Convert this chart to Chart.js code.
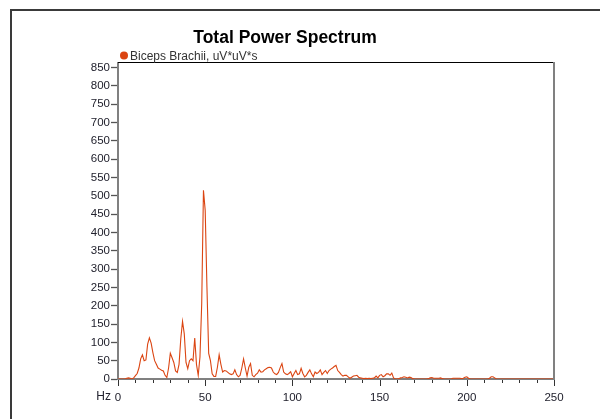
<!DOCTYPE html>
<html><head><meta charset="utf-8">
<script src="https://cdn.jsdelivr.net/npm/chart.js@4.4.1/dist/chart.umd.min.js"></script>
<style>html,body{margin:0;padding:0;background:#fff;overflow:hidden;}</style>
</head><body>
<canvas id="c" width="600" height="419"></canvas>
<script>
const chartTitle = 'Total Power Spectrum';
const seriesName = 'Biceps Brachii, uV*uV*s';
const xAxisName = 'Hz';

const frequencies = [
  0,1,2,3,4,5,6,7,8,9,10,11,12,13,14,15,16,17,18,19,20,21,22,23,24,25,26,27,28,29,
  30,31,32,33,34,35,36,37,38,39,40,41,42,43,44,45,46,47,48,49,50,51,52,53,54,55,56,57,58,59,
  60,61,62,63,64,65,66,67,68,69,70,71,72,73,74,75,76,77,78,79,80,81,82,83,84,85,86,87,88,89,
  90,91,92,93,94,95,96,97,98,99,100,101,102,103,104,105,106,107,108,109,110,111,112,113,114,115,116,117,118,119,
  120,121,122,123,124,125,126,127,128,129,130,131,132,133,134,135,136,137,138,139,140,141,142,143,144,145,146,147,148,149,
  150,151,152,153,154,155,156,157,158,159,160,161,162,163,164,165,166,167,168,169,170,171,172,173,174,175,176,177,178,179,
  180,181,182,183,184,185,186,187,188,189,190,191,192,193,194,195,196,197,198,199,200,201,202,203,204,205,206,207,208,209,
  210,211,212,213,214,215,216,217,218,219,220,221,222,223,224,225,226,227,228,229,230,231,232,233,234,235,236,237,238,239,
  240,241,242,243,244,245,246,247,248,249,250
];
const power = [
  0,0,0,0,0,2,3,2,0,3,
  9,15,30,55,66,50,52,95,112,98,
  72,50,40,30,27,24,22,10,4,30,
  70,58,45,22,18,40,110,157,123,45,
  28,50,55,50,112,40,10,60,205,515,
  460,250,70,50,14,7,7,32,66,40,
  19,23,22,18,14,12,14,25,12,6,
  10,30,55,30,8,32,42,10,6,12,
  16,25,19,20,25,28,31,32,30,19,
  14,12,18,31,42,19,14,12,15,20,
  6,15,23,12,14,29,15,6,10,18,
  25,14,6,19,15,18,25,12,18,23,
  15,23,27,30,34,37,23,18,12,8,
  10,10,6,2,5,8,9,10,5,3,
  2,1,2,1,2,1,2,3,8,3,
  10,12,6,9,14,14,10,16,3,0,
  0,1,3,4,6,5,3,5,4,1,
  0,0,0,0,0,0,0,0,1,3,
  4,2,2,2,2,3,1,0,0,0,
  0,0,2,2,2,2,2,1,2,5,
  6,2,0,0,0,0,0,0,0,0,
  0,0,0,2,6,6,3,0,0,0,
  0,0,0,0,0,0,0,0,0,0,
  0,0,0,0,0,0,0,0,0,0,
  0,0,0,0,0,0,0,0,0,0,
  0
];
const yTickValues = [0,50,100,150,200,250,300,350,400,450,500,550,600,650,700,750,800,850];
const xTickValues = [0,10,20,30,40,50,60,70,80,90,100,110,120,130,140,150,160,170,180,190,200,210,220,230,240,250];
const xLabelValues = [0,50,100,150,200,250];

const lineColor = '#db4512';
const tickColor = '#22222e';
const axisColor = '#808080';

const decor = {
  id: 'decor',
  beforeDraw(chart) {
    const ctx = chart.ctx;
    ctx.save();
    ctx.fillStyle = '#fff';
    ctx.fillRect(0, 0, chart.width, chart.height);
    ctx.fillStyle = '#3a3a3a';
    ctx.fillRect(10, 9, chart.width - 10, 2);
    ctx.fillRect(10, 9, 2, chart.height - 9);
    ctx.restore();
  },
  afterDraw(chart) {
    const {ctx, chartArea: a, scales: {x}} = chart;
    ctx.save();
    ctx.fillStyle = '#000';
    ctx.fillRect(a.left, a.top - 1, a.right - a.left, 1);
    ctx.fillStyle = axisColor;
    ctx.fillRect(a.right - 1, a.top - 1, 2, a.bottom - a.top + 2);
    ctx.strokeStyle = '#333';
    ctx.lineWidth = 1;
    xTickValues.forEach(v => {
      const px = Math.round(x.getPixelForValue(v)) + 0.5;
      const len = xLabelValues.includes(v) ? 6 : 3;
      ctx.beginPath();
      ctx.moveTo(px, a.bottom + 1);
      ctx.lineTo(px, a.bottom + 1 + len);
      ctx.stroke();
    });
    ctx.fillStyle = '#000';
    ctx.font = 'bold 17.5px "Liberation Sans", Arial, sans-serif';
    ctx.textAlign = 'center';
    ctx.textBaseline = 'alphabetic';
    ctx.fillText(chartTitle, 285, 43);
    ctx.beginPath();
    ctx.arc(a.left + 6, 55.5, 4, 0, Math.PI * 2);
    ctx.fillStyle = lineColor;
    ctx.fill();
    ctx.font = '12px "Liberation Sans", Arial, sans-serif';
    ctx.fillStyle = '#333';
    ctx.textAlign = 'left';
    ctx.fillText(seriesName, a.left + 12, 60);
    ctx.textAlign = 'right';
    ctx.fillStyle = tickColor;
    ctx.fillText(xAxisName, a.left - 7, 399.5);
    ctx.restore();
  }
};

new Chart(document.getElementById('c'), {
  type: 'line',
  data: {
    datasets: [{
      label: seriesName,
      data: frequencies.map((f, i) => ({x: f, y: power[i]})),
      borderColor: lineColor,
      backgroundColor: lineColor,
      borderWidth: 1.1,
      pointRadius: 0,
      tension: 0,
      fill: false
    }]
  },
  options: {
    responsive: false,
    animation: false,
    devicePixelRatio: 1,
    layout: {padding: {top: 63, right: 46, left: 0, bottom: 0}},
    plugins: {legend: {display: false}, title: {display: false}, tooltip: {enabled: false}},
    scales: {
      x: {
        type: 'linear',
        min: 0, max: 250,
        afterBuildTicks: s => { s.ticks = xTickValues.map(v => ({value: v})); },
        afterFit: s => { s.height = 40; },
        grid: {display: true, drawOnChartArea: false, drawTicks: false},
        border: {display: true, color: axisColor, width: 2},
        ticks: {
          autoSkip: false, maxRotation: 0, padding: 12,
          color: tickColor,
          font: {family: '"Liberation Sans", Arial, sans-serif', size: 11.5},
          callback: v => xLabelValues.includes(v) ? String(v) : ''
        }
      },
      y: {
        min: 0, max: 862,
        afterBuildTicks: s => { s.ticks = yTickValues.map(v => ({value: v})); },
        afterFit: s => { s.width = 118; },
        grid: {display: true, drawOnChartArea: false, drawTicks: true, tickLength: 7, tickColor: '#555', tickWidth: 1.3},
        border: {display: true, color: axisColor, width: 2},
        ticks: {
          padding: 1,
          color: tickColor,
          font: {family: '"Liberation Sans", Arial, sans-serif', size: 11.5}
        }
      }
    }
  },
  plugins: [decor]
});
</script>
</body></html>
